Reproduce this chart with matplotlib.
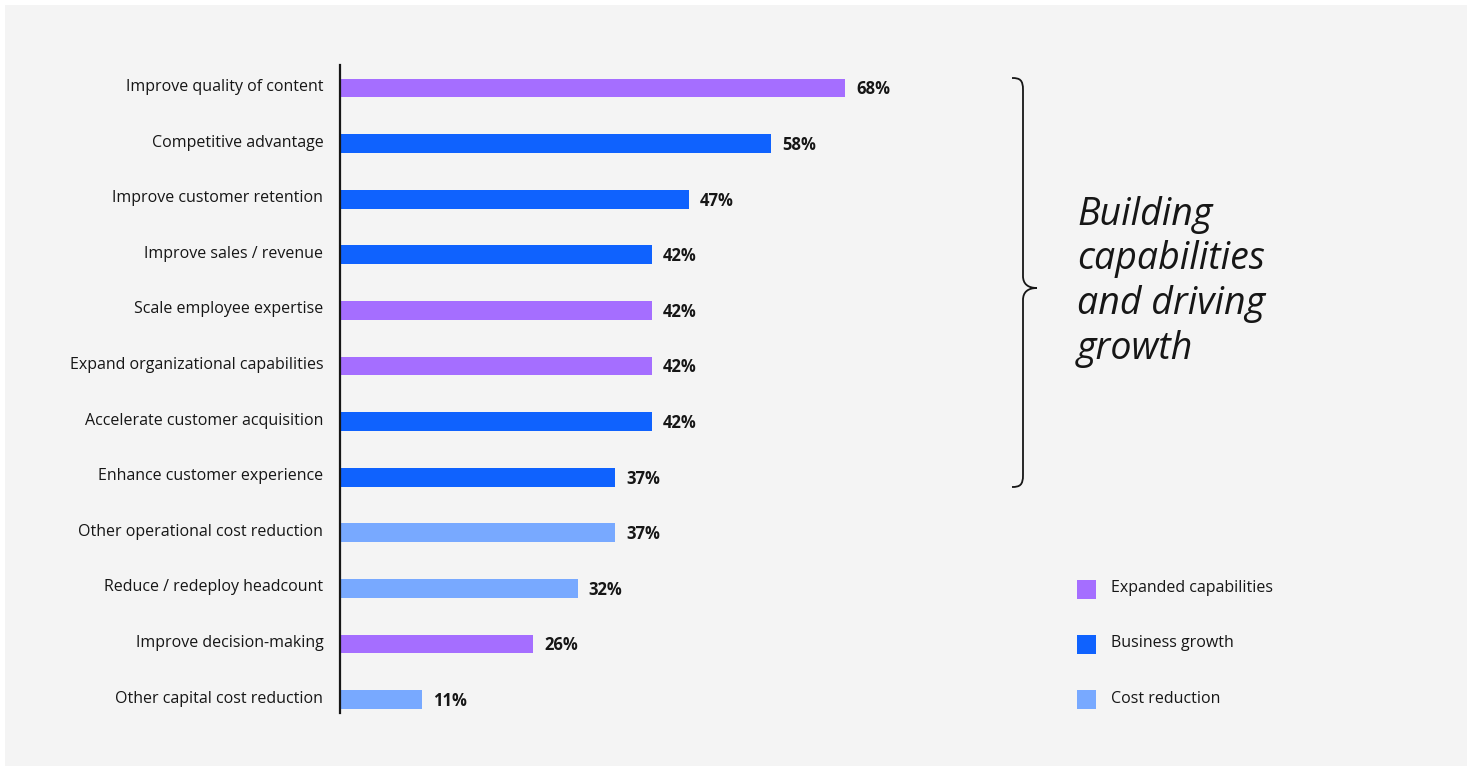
import matplotlib
matplotlib.use("Agg")
import matplotlib.pyplot as plt
from matplotlib.patches import Rectangle, PathPatch
from matplotlib.path import Path
from matplotlib.transforms import ScaledTranslation

categories = [
    "Improve quality of content",
    "Competitive advantage",
    "Improve customer retention",
    "Improve sales / revenue",
    "Scale employee expertise",
    "Expand organizational capabilities",
    "Accelerate customer acquisition",
    "Enhance customer experience",
    "Other operational cost reduction",
    "Reduce / redeploy headcount",
    "Improve decision-making",
    "Other capital cost reduction",
]
values = [68, 58, 47, 42, 42, 42, 42, 37, 37, 32, 26, 11]
groups = ["Expanded capabilities", "Business growth", "Business growth", "Business growth",
          "Expanded capabilities", "Expanded capabilities", "Business growth", "Business growth",
          "Cost reduction", "Cost reduction", "Expanded capabilities", "Cost reduction"]
legend_labels = ["Expanded capabilities", "Business growth", "Cost reduction"]
group_colors = {"Expanded capabilities": "#a56eff",
                "Business growth": "#0f62fe",
                "Cost reduction": "#78a9ff"}
annotation_lines = ["Building", "capabilities", "and driving", "growth"]

plt.rcParams['font.family'] = ['Open Sans', 'DejaVu Sans']
TXT = "#161616"
W, H = 1473, 768
fig = plt.figure(figsize=(W / 100, H / 100), dpi=100, facecolor="white")

def fx(x):
    return x / W

def fy(y):
    return 1 - y / H

# light panel
fig.add_artist(Rectangle((fx(5), fy(766)), fx(1462), (761) / H, transform=fig.transFigure,
                         facecolor="#f4f4f4", edgecolor="none", zorder=0))

ax_left, ax_right = 340, 1000
ax_top, ax_bot = 65, 713
ax = fig.add_axes([fx(ax_left), fy(ax_bot), (ax_right - ax_left) / W, (ax_bot - ax_top) / H])
ax.set_facecolor("none")

ypos = list(range(len(categories)))
colors = [group_colors[g] for g in groups]
ax.barh(ypos, values, height=0.34, color=colors, zorder=2)
ax.set_xlim(0, 68 * (ax_right - ax_left) / 505)
step = 55.6
ax.set_ylim((ax_bot - 88) / step, (ax_top - 88) / step)
ax.set_yticks(ypos)
ax.set_yticklabels(categories, fontsize=11.5, color=TXT)
ax.tick_params(axis="y", length=0, pad=12)
shift = ScaledTranslation(0, 3 / 100, fig.dpi_scale_trans)
for lab in ax.get_yticklabels():
    lab.set_transform(lab.get_transform() + shift)
ax.set_xticks([])
for s in ["top", "right", "bottom"]:
    ax.spines[s].set_visible(False)
ax.spines["left"].set_linewidth(1.6)
ax.spines["left"].set_color(TXT)

for y, v in zip(ypos, values):
    ax.annotate(f"{v}%", (v, y), xytext=(8, -1), textcoords="offset points",
                va="center", ha="left", fontsize=12, fontweight="bold", color=TXT)

# brace
verts = [(1012, 78), (1020, 78), (1023, 80), (1023, 90),
         (1023, 276),
         (1023, 284), (1028, 288), (1037, 288),
         (1028, 288), (1023, 292), (1023, 300),
         (1023, 475),
         (1023, 485), (1020, 487), (1012, 487)]
codes = [Path.MOVETO, Path.CURVE4, Path.CURVE4, Path.CURVE4,
         Path.LINETO,
         Path.CURVE4, Path.CURVE4, Path.CURVE4,
         Path.CURVE4, Path.CURVE4, Path.CURVE4,
         Path.LINETO,
         Path.CURVE4, Path.CURVE4, Path.CURVE4]
path = Path([(fx(x), fy(y)) for x, y in verts], codes)
fig.add_artist(PathPatch(path, transform=fig.transFigure, facecolor="none",
                         edgecolor=TXT, linewidth=1.3))

for i, line in enumerate(annotation_lines):
    fig.text(fx(1077), fy(225 + i * 44.5), line, fontsize=27, fontstyle="italic", color=TXT,
             ha="left", va="baseline")

# legend
for i, lab in enumerate(legend_labels):
    cy = 589 + i * 55.3
    fig.add_artist(Rectangle((fx(1077), fy(cy + 9.5)), 19 / W, 19 / H, transform=fig.transFigure,
                             facecolor=group_colors[lab], edgecolor="none"))
    fig.text(fx(1111), fy(cy - 1), lab, fontsize=11.5, color=TXT, ha="left", va="center")

fig.savefig("out.png", dpi=100, facecolor="white")
